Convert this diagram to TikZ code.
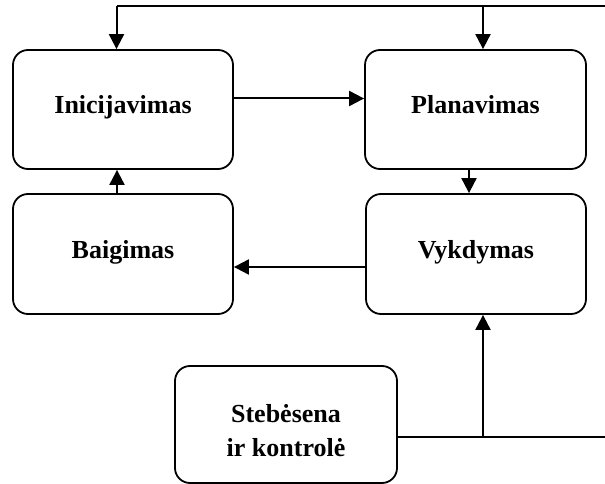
\documentclass[tikz,border=0pt]{standalone}
\usepackage{fontspec}
\setmainfont{Liberation Serif}
\usetikzlibrary{arrows.meta}
\begin{document}
\begin{tikzpicture}[x=1pt,y=-1pt,
  phasefont/.style={font=\fontsize{26}{34}\selectfont\bfseries},
  phase/.style={draw, line width=1.8pt, rounded corners=15pt, inner sep=0pt,
    phasefont, text height=18pt, text depth=9pt},
  caption/.style={phasefont, inner sep=0pt, anchor=base},
  link/.style={line width=2pt},
  arr/.style={link, -{Triangle[length=15pt,width=15pt]}}]
  \useasboundingbox (0,0) rectangle (605,484);

  % process phases
  \node[phase, minimum width=220pt, minimum height=119pt] (ini)  at (123,109.5) {Inicijavimas};
  \node[phase, minimum width=221pt, minimum height=119pt] (plan) at (475.5,109.5) {Planavimas};
  \node[phase, minimum width=220pt, minimum height=120pt] (baig) at (123,254) {Baigimas};
  \node[phase, minimum width=220pt, minimum height=120pt] (vyk)  at (476,254) {Vykdymas};
  \node[phase, minimum width=222pt, minimum height=117pt] (steb) at (286,424.5) {};
  \node[caption] (steb1) at (286,422) {Stebėsena};
  \node[caption] (steb2) at (286,456) {ir kontrolė};

  % feedback lines running off to the right
  \coordinate (tr) at (605,6);
  \coordinate (tl) at (116.5,6);
  \coordinate (tm) at (483,6);
  \coordinate (br) at (605,437);
  \coordinate (bm) at (483,437);

  \draw[link] (tr) -- (tl);
  \draw[arr] (tl) -- (tl |- ini.north);
  \draw[arr] (tm) -- (tm |- plan.north);

  \draw[arr] ([yshift=11pt]ini.east) -- ([yshift=11pt]ini.east -| plan.west);
  \draw[arr] ([xshift=-6.5pt]plan.south) -- ([xshift=-6.5pt]plan.south |- vyk.north);
  \draw[arr] ([xshift=-6pt]baig.north) -- ([xshift=-6pt]baig.north |- ini.south);
  \draw[arr] ([yshift=-13pt]vyk.west) -- ([yshift=-13pt]vyk.west -| baig.east);

  \draw[link] ([yshift=-12.5pt]steb.east) -- (br);
  \draw[arr] (bm) -- (bm |- vyk.south);
\end{tikzpicture}
\end{document}
